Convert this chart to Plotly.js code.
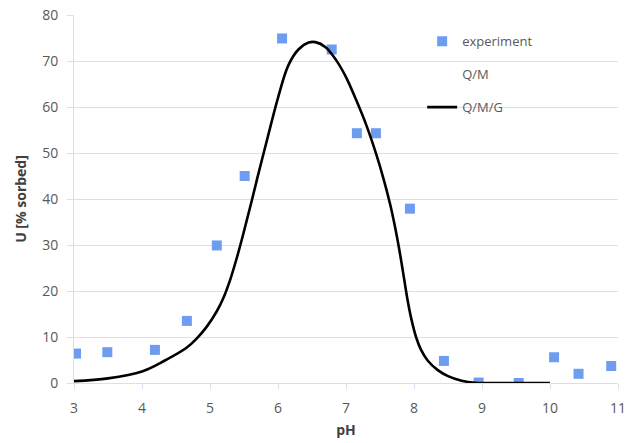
<!DOCTYPE html>
<html>
<head>
<meta charset="utf-8">
<script src="https://cdn.plot.ly/plotly-3.0.1.min.js"></script>
<style>html,body{margin:0;padding:0;background:#fff;}#chart{width:626px;height:443px;}</style>
</head>
<body>
<div id="chart"></div>
<script>
// experiment data
var expPH = [3.03, 3.49, 4.19, 4.66, 5.10, 5.51, 6.06, 6.79, 7.16, 7.44, 7.94, 8.44, 8.95, 9.54, 10.06, 10.42, 10.90];
var expU  = [6.4, 6.7, 7.2, 13.5, 29.9, 45.0, 74.9, 72.5, 54.3, 54.3, 37.9, 4.8, 0.1, 0.0, 5.6, 2.0, 3.7];

// Q/M/G model curve
var qmgPH = [3.0, 3.5, 4.0, 4.35, 4.65, 4.8, 4.95, 5.1, 5.2, 5.3, 5.4, 5.5, 5.6, 5.7, 5.85, 6.0, 6.15, 6.3, 6.45, 6.55, 6.7, 6.85, 7.0, 7.15, 7.3, 7.45, 7.55, 7.65, 7.72, 7.78, 7.84, 7.9, 7.96, 8.03, 8.1, 8.2, 8.35, 8.5, 8.7, 8.9, 9.5, 10.0];
var qmgU  = [0.4, 1.0, 2.5, 5.0, 7.6, 9.6, 12.2, 15.6, 18.6, 22.6, 27.5, 33.0, 38.8, 44.8, 53.5, 62.0, 69.0, 72.5, 74.0, 74.1, 73.0, 70.3, 66.5, 61.5, 56.0, 49.5, 44.5, 38.8, 34.0, 29.3, 24.0, 18.5, 14.0, 10.0, 7.3, 4.9, 2.8, 1.5, 0.5, 0.05, 0.0, 0.0];

// Q/M (no visible data)
var qmPH = [null];
var qmU = [null];

var xTicks = [3, 4, 5, 6, 7, 8, 9, 10, 11];
var yTicks = [0, 10, 20, 30, 40, 50, 60, 70, 80];

var gridCol = '#dcdcf6';
var txtCol = '#595959';

var traces = [
  {x: expPH, y: expU, name: 'experiment', type: 'scatter', mode: 'markers',
   marker: {symbol: 'square', size: 10, color: '#6d9cf0'}, legendgroup: 'a'},
  {x: qmPH, y: qmU, name: 'Q/M', type: 'scatter', mode: 'lines',
   line: {color: 'rgba(0,0,0,0)', width: 2}, legendgroup: 'b'},
  {x: qmgPH, y: qmgU, name: 'Q/M/G', type: 'scatter', mode: 'lines',
   line: {color: '#000000', width: 2.6, shape: 'spline', smoothing: 1}, legendgroup: 'c'}
];

var layout = {
  width: 626, height: 443,
  margin: {l: 74, r: 8, t: 15, b: 60},
  paper_bgcolor: '#ffffff', plot_bgcolor: '#ffffff',
  font: {family: 'Open Sans, sans-serif', color: txtCol, size: 14},
  showlegend: true,
  legend: {x: 0.64, y: 0.969, xanchor: 'left', yanchor: 'top', bgcolor: 'rgba(0,0,0,0)',
           font: {size: 13, color: txtCol}, traceorder: 'grouped', tracegroupgap: 13},
  xaxis: {
    range: [3, 11], tickvals: xTicks, ticktext: xTicks.map(String),
    showgrid: false, zeroline: false, showline: true, linecolor: gridCol, linewidth: 1,
    ticks: 'outside', ticklen: 5, tickcolor: gridCol, ticklabelstandoff: 7,
    ticklabeloverflow: 'allow',
    tickfont: {size: 14, color: txtCol},
    title: {text: '<b>pH</b>', font: {size: 14, color: '#404040'}, standoff: 9}
  },
  yaxis: {
    range: [0, 80], tickvals: yTicks, ticktext: yTicks.map(String),
    showgrid: true, gridcolor: gridCol, gridwidth: 1, zeroline: false,
    showline: true, linecolor: gridCol, linewidth: 1,
    ticks: 'outside', ticklen: 6, tickcolor: gridCol, ticklabelstandoff: 6,
    tickfont: {size: 14, color: txtCol},
    title: {text: '<b>U [% sorbed]</b>', font: {size: 14, color: '#404040'}, standoff: 12}
  }
};

Plotly.newPlot('chart', traces, layout, {displayModeBar: false, staticPlot: true});
</script>
</body>
</html>
